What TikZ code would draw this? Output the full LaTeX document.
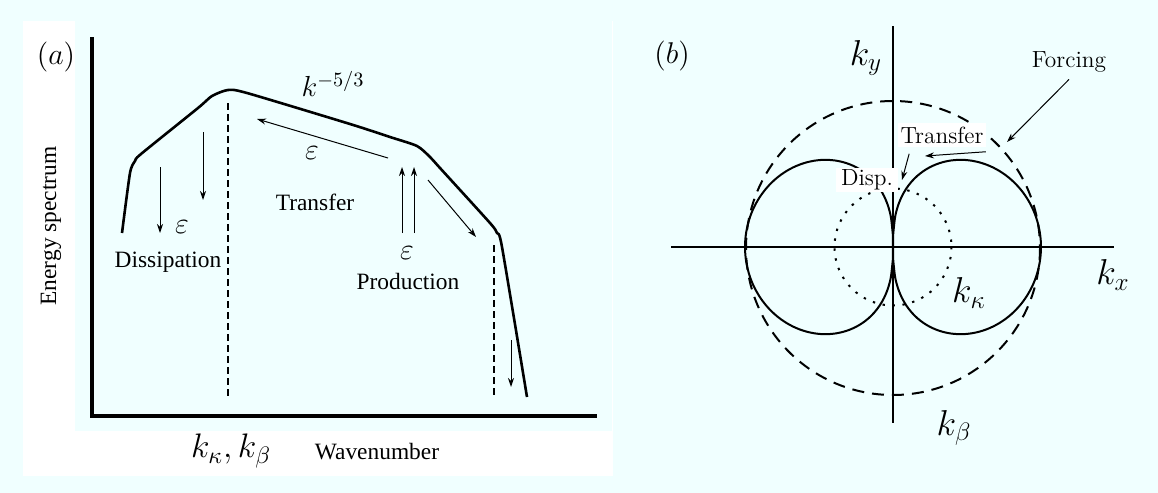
\documentclass[tikz,border=0pt]{standalone}
\usepackage{fix-cm}
\usepackage{amsmath}
\usepackage{fontspec}
\newfontfamily\timesfont{Liberation Serif}
\usepackage{tikz}
\usetikzlibrary{arrows.meta, calc}
\usepackage{xcolor}
\definecolor{panelcyan}{HTML}{F0FFFF}

\begin{document}
\begin{tikzpicture}[x=0.5pt, y=-0.5pt,
    axis/.style={line width=1.6pt},
    raxis/.style={line width=1pt},
    spec/.style={line width=1.3pt, line join=round},
    lobe/.style={line width=1pt, line join=round},
    flow/.style={line width=0.5pt, -{Stealth[length=4.5pt, width=3pt]}},
    guide/.style={line width=0.6pt, dash pattern=on 3.5pt off 2pt},
    ring/.style={line width=1pt, dash pattern=on 6pt off 4pt},
    wtext/.style={font=\timesfont\fontsize{11.7}{14}\selectfont},
    ctext/.style={font=\fontsize{11.7}{14}\selectfont},
    epsmath/.style={font=\fontsize{15}{18}\selectfont},
    bigmath/.style={font=\fontsize{18}{21}\selectfont}]

    % Backgrounds
    \fill[panelcyan] (0,0) rectangle (1158,493);
    \fill[white] (23,21) rectangle (613,476);
    \fill[panelcyan] (75,21) rectangle (612,431);

    % ---------- (a) energy spectrum ----------
    \draw[axis] (92,37) -- (92,416) -- (597,416);
    \node[font=\fontsize{15}{18}\selectfont] (alab) at (56,57) {$(a)$};
    \node[wtext, rotate=90] (ylab) at (51,226) {Energy spectrum};
    \node[font=\fontsize{17}{20}\selectfont] (kkb) at (231,451) {$k_\kappa, k_\beta$};
    \node[wtext] (xlab) at (377,452) {Wavenumber};

    % Spectrum curve
    \draw[spec] plot[smooth, tension=0.4] coordinates {(122,233) (130,173) (135,161) (141,154)
        (198,108) (212,96) (228,90) (247,93) (350,124) (390,137) (417,146)
        (430,157) (440,168) (490,223) (497,233) (502,247) (527,397)};

    % Wavenumber markers
    \draw[guide] (228,103) -- (228,398);
    \draw[guide] (494,245) -- (494,397);

    % Energy flux arrows
    \draw[flow] (160,167) -- (160,233);
    \draw[flow] (203,132) -- (203,200);
    \draw[flow] (388,158) -- (257,119);
    \draw[flow] (402,233) -- (402,167);
    \draw[flow] (414,233) -- (414,167);
    \draw[flow] (428,180) -- (476,237);
    \draw[flow] (511,340) -- (511,387);

    \node[font=\fontsize{14.5}{17}\selectfont] (slope) at (333,84) {$k^{-5/3}$};
    \node[epsmath] (eps1) at (182,227) {$\varepsilon$};
    \node[epsmath] (eps2) at (312,153) {$\varepsilon$};
    \node[epsmath] (eps3) at (407,253) {$\varepsilon$};
    \node[wtext] (diss) at (168,262) {Dissipation};
    \node[wtext] (trl) at (315,202) {Transfer};
    \node[wtext] (prod) at (408,281) {Production};

    % ---------- (b) wavenumber plane ----------
    \draw[ring] (893,248) circle[radius=147];
    \draw[line width=1pt, dash pattern=on 1.2pt off 3.8pt] (893,247) circle[radius=58.5];
    \foreach \s in {1,-1}
        \draw[lobe] (893,247) -- plot[domain=-89:89, samples=61, smooth]
            ({893+\s*148*pow(cos(\x),1.6)}, {247-148*pow(cos(\x),0.6)*sin(\x)}) -- cycle;
    \draw[raxis] (893,26) -- (893,423);
    \draw[raxis] (671,247) -- (1114,247);

    \node[font=\fontsize{15}{18}\selectfont] (blab) at (672,56) {$(b)$};
    \node[bigmath] (ky) at (866,58) {$k_y$};
    \node[bigmath] (kx) at (1113,275) {$k_x$};
    \node[bigmath] (kkap) at (969,293) {$k_\kappa$};
    \node[bigmath] (kbet) at (954,428) {$k_\beta$};

    \node[ctext] (forcing) at (1069,62) {Forcing};
    \node[ctext, fill=white, inner xsep=1.5pt, inner ysep=2pt] (trans) at (942,135) {Transfer};
    \node[ctext, fill=white, inner xsep=2.5pt, inner ysep=1pt] (disp) at (867,180) {Disp.};

    \draw[flow] (forcing.south) -- (1007,142);
    \draw[flow] ($(trans.south east)+(-1,4)$) -- (925,156);
    \draw[flow] ($(trans.south west)+(12,6)$) -- (902,180);

\end{tikzpicture}
\end{document}
